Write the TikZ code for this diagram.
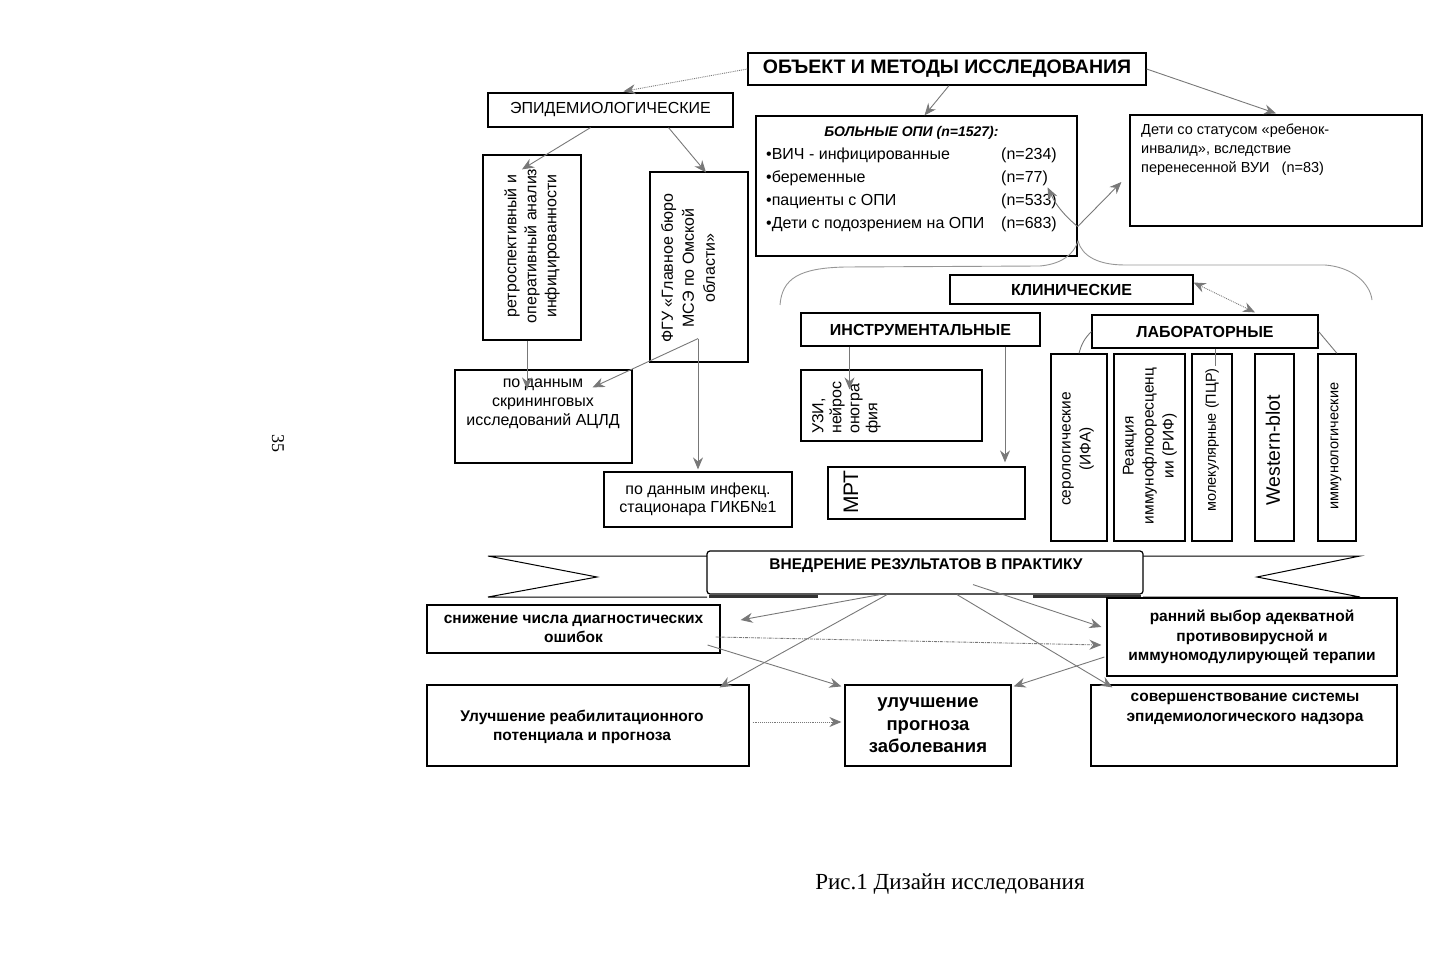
\documentclass[tikz,border=0pt]{standalone}
\usepackage{fontspec}
\setmainfont{Liberation Sans}
\newfontfamily\capfont{Liberation Serif}
\usepackage{tikz}
\usetikzlibrary{arrows.meta}
\definecolor{arrgray}{RGB}{120,120,120}
\definecolor{bracegray}{RGB}{150,150,150}

\begin{document}
\begin{tikzpicture}[x=1pt, y=-1pt,
  box/.style={draw, line width=1.2pt, inner sep=0pt, align=center},
  txt/.style={font=\fontsize{16}{19}\selectfont, align=center, inner sep=0pt},
  vtxt/.style={font=\fontsize{16}{20}\selectfont, align=center, inner sep=0pt, rotate=90},
  bhead/.style={font=\bfseries\fontsize{16}{19}\selectfont},
  btxt/.style={font=\bfseries\fontsize{15.5}{19.5}\selectfont},
  conn/.style={draw=arrgray, line width=0.9pt, -{Stealth[length=12pt,width=10pt,inset=4pt]}},
  ribbon/.style={draw, line width=1pt, fill=white}]
\useasboundingbox (0,0) rectangle (1448,960);

% object and methods
\node[box, minimum width=398pt, minimum height=32pt, font=\bfseries\fontsize{19.5}{22}\selectfont] (title) at (947,69) {ОБЪЕКТ И МЕТОДЫ ИССЛЕДОВАНИЯ};
\node[box, minimum width=245pt, minimum height=34pt, font=\fontsize{16}{19}\selectfont] (epid) at (610.5,110) {ЭПИДЕМИОЛОГИЧЕСКИЕ};
\node[box, minimum width=321pt, minimum height=140pt] (bolnye) at (916.5,186) {};
\node[anchor=north west, inner sep=0pt, font=\fontsize{16}{23}\selectfont] (bolnyelist) at (766,120) {%
  \begin{tabular}{@{}p{235pt}@{}l@{}}
  \multicolumn{2}{@{}c@{}}{\fontsize{14}{23}\selectfont\bfseries\itshape БОЛЬНЫЕ ОПИ (n=1527):}\\
  •ВИЧ - инфицированные & (n=234)\\
  •беременные & (n=77)\\
  •пациенты с ОПИ & (n=533)\\
  •Дети с подозрением на ОПИ & (n=683)
  \end{tabular}};
\node[box, minimum width=292pt, minimum height=111pt] (deti) at (1276,170.5) {};
\node[anchor=north west, inner sep=0pt, align=left, font=\fontsize{14.5}{19}\selectfont] (detitxt) at (1141,124) {Дети со статусом «ребенок-\\инвалид», вследствие\\перенесенной ВУИ~~~(n=83)};

% epidemiological branch
\node[box, minimum width=98pt, minimum height=185pt] (retro) at (532,247.5) {};
\node[vtxt] (retrotxt) at (532,246) {ретроспективный и\\оперативный анализ\\инфицированности};
\node[box, minimum width=98pt, minimum height=190pt] (fgu) at (699,267) {};
\node[vtxt, font=\fontsize{16}{21}\selectfont] (fgutxt) at (688,268) {ФГУ «Главное бюро\\МСЭ по Омской\\области»};
\node[box, minimum width=177pt, minimum height=93pt] (acld) at (543.5,416.5) {};
\node[txt] (acldtxt) at (543,404) {по данным\\скрининговых\\исследований АЦЛД};
\node[box, minimum width=188pt, minimum height=55pt, font=\fontsize{16}{18}\selectfont] (gikb) at (698,499.5) {по данным инфекц.\\стационара ГИКБ№1};

% clinical branch
\node[box, minimum width=243pt, minimum height=29pt, bhead] (klin) at (1071.5,289.5) {КЛИНИЧЕСКИЕ};
\node[box, minimum width=239pt, minimum height=33pt, bhead] (instr) at (920.5,329.5) {ИНСТРУМЕНТАЛЬНЫЕ};
\node[box, minimum width=226pt, minimum height=33pt, bhead] (lab) at (1205,331.5) {ЛАБОРАТОРНЫЕ};
\node[box, minimum width=181pt, minimum height=71pt] (uzi) at (891.5,405.5) {};
\node[vtxt, align=left, anchor=north west, font=\fontsize{16}{18}\selectfont] (uzitxt) at (812,434) {УЗИ,\\нейрос\\оногра\\фия};
\node[box, minimum width=197pt, minimum height=52pt] (mrt) at (926.5,493) {};
\node[vtxt, anchor=west, font=\fontsize{21}{21}\selectfont] (mrttxt) at (851,514) {МРТ};
\node[box, minimum width=56pt, minimum height=187pt] (sero) at (1079,447.5) {};
\node[vtxt, font=\fontsize{15.5}{20}\selectfont] at (1078,449) {серологические\\(ИФА)};
\node[box, minimum width=71pt, minimum height=187pt] (rif) at (1149.5,447.5) {};
\node[vtxt, font=\fontsize{15.5}{20}\selectfont] at (1150,446) {Реакция\\иммунофлюоресценц\\ии (РИФ)};
\node[box, minimum width=40pt, minimum height=187pt] (pcr) at (1212,447.5) {};
\node[vtxt, font=\fontsize{14.5}{18}\selectfont] at (1212,440) {молекулярные (ПЦР)};
\node[box, minimum width=39pt, minimum height=187pt] (wblot) at (1274.5,447.5) {};
\node[vtxt, font=\fontsize{19.5}{22}\selectfont] at (1273,450) {Western-blot};
\node[box, minimum width=38pt, minimum height=187pt] (immun) at (1337,447.5) {};
\node[vtxt, font=\fontsize{14.5}{18}\selectfont] at (1336,446) {иммунологические};

% brace over the clinical part
\coordinate (brtip) at (1078,241);
\draw[bracegray, line width=0.9pt] (780,305) .. controls (782,278) and (800,268) .. (845,267) -- (1040,266)
  .. controls (1062,264) and (1074,254) .. (brtip)
  .. controls (1082,256) and (1098,265) .. (1125,265) -- (1325,265)
  .. controls (1352,267) and (1370,283) .. (1372,300);
\coordinate (fork) at ([yshift=30pt]bolnye.south east);

% ribbon
\draw[ribbon] (707,556) -- (488,556) -- (597,577) -- (488,597) -- (707,597);
\draw[ribbon] (1143,556) -- (1360,556) -- (1257,577) -- (1360,597) -- (1143,597);
\draw[line width=3pt, black!80] (709,596) -- (818,596);
\draw[line width=3pt, black!80] (1033,596) -- (1141,596);
\node[box, fill=white, rounded corners=3pt, minimum width=436pt, minimum height=43pt] (vnedr) at (925,572.5) {};
\node[btxt, inner sep=0pt] (vnedrtxt) at (926,566) {ВНЕДРЕНИЕ РЕЗУЛЬТАТОВ В ПРАКТИКУ};

% results
\node[box, minimum width=293pt, minimum height=48pt, btxt] (snizh) at (573.5,629) {снижение числа диагностических\\ошибок};
\node[box, minimum width=290pt, minimum height=78pt, btxt] (ranniy) at (1252,637) {ранний выбор адекватной\\противовирусной и\\иммуномодулирующей терапии};
\node[box, minimum width=322pt, minimum height=81pt] (reab) at (588,725.5) {};
\node[txt, btxt] (reabtxt) at (582,727) {Улучшение реабилитационного\\потенциала и прогноза};
\node[box, minimum width=166pt, minimum height=81pt, font=\bfseries\fontsize{18.5}{22.5}\selectfont] (prognoz) at (928,725.5) {улучшение\\прогноза\\заболевания};
\node[box, minimum width=306pt, minimum height=81pt] (sover) at (1244,725.5) {};
\node[txt, btxt] (sovertxt) at (1245,709) {совершенствование системы\\эпидемиологического надзора};

% connectors, top
\draw[conn, densely dotted] (title.west) -- ([xshift=13pt,yshift=1pt]epid.north);
\draw[conn] ([xshift=2pt]title.south) -- ([xshift=8pt]bolnye.north);
\draw[conn] (title.east) -- ([yshift=1pt]deti.north);
\draw[conn] ([xshift=-20pt]epid.south) -- ([xshift=-10pt,yshift=-15pt]retro.north);
\draw[conn] ([xshift=58pt]epid.south) -- ([xshift=7pt,yshift=-1pt]fgu.north);
\draw[conn] ([xshift=-5pt]retro.south) -- ([xshift=-16.5pt,yshift=-20pt]acld.north);
\coordinate (fguout) at ([xshift=-1pt,yshift=24pt]fgu.south);
\draw[conn] (fguout) -- ([xshift=-40pt,yshift=-18pt]acld.north east);
\draw[conn] (fguout) -- ([yshift=2pt]gikb.north);
\draw[conn] (fork) -- ([xshift=-8pt,yshift=-11.5pt]deti.west);
\draw[conn] (fork) to[bend left=12] ([xshift=-30pt,yshift=-72pt]bolnye.north east);
\draw[conn, {Stealth[length=12pt,width=10pt,inset=4pt]}-{Stealth[length=12pt,width=10pt,inset=4pt]}, densely dotted] ([yshift=7pt]klin.east) -- ([xshift=50pt,yshift=2pt]lab.north);
\draw[conn] ([xshift=-71pt]instr.south) -- ([xshift=-42pt,yshift=-20pt]uzi.north);
\draw[conn] ([xshift=84.5pt]instr.south) -- ([xshift=78.5pt,yshift=4pt]mrt.north);
\draw[arrgray, line width=0.9pt] (lab.west) to[bend right=15] (sero.north);
\draw[arrgray, line width=0.9pt] ([xshift=10pt]lab.south) -- ([xshift=3pt,yshift=-13pt]pcr.north);
\draw[arrgray, line width=0.9pt] (lab.east) -- (immun.north);

% connectors, bottom
\draw[conn] ([xshift=-45pt]vnedr.south) -- ([xshift=20pt,yshift=9pt]snizh.east);
\draw[conn] ([xshift=-38pt]vnedr.south) -- ([xshift=-30pt,yshift=-3pt]reab.north east);
\draw[conn] ([xshift=32pt]vnedr.south) -- ([xshift=22pt,yshift=-3pt]sover.north west);
\draw[conn] ([xshift=48pt,yshift=10pt]vnedr.south) -- ([xshift=-5pt,yshift=10pt]ranniy.west);
\draw[conn, densely dash dot] ([xshift=-5pt,yshift=-8pt]snizh.east) -- ([xshift=-5pt,yshift=-8pt]ranniy.west);
\draw[conn] ([xshift=-13pt,yshift=-16pt]snizh.east) -- ([xshift=-3pt,yshift=-2pt]prognoz.north west);
\draw[conn] ([xshift=-2pt,yshift=-20pt]ranniy.west) -- ([xshift=2pt,yshift=-2pt]prognoz.north east);
\draw[conn, densely dotted] ([xshift=3pt,yshift=3.5pt]reab.east) -- ([xshift=-3pt,yshift=3.5pt]prognoz.west);

% page number and caption
\node[font=\capfont\fontsize{18}{18}\selectfont, rotate=-90] (pagenum) at (278,443) {35};
\node[font=\capfont\fontsize{23}{23}\selectfont] (caption) at (950,884) {Рис.1 Дизайн исследования};
\end{tikzpicture}
\end{document}
